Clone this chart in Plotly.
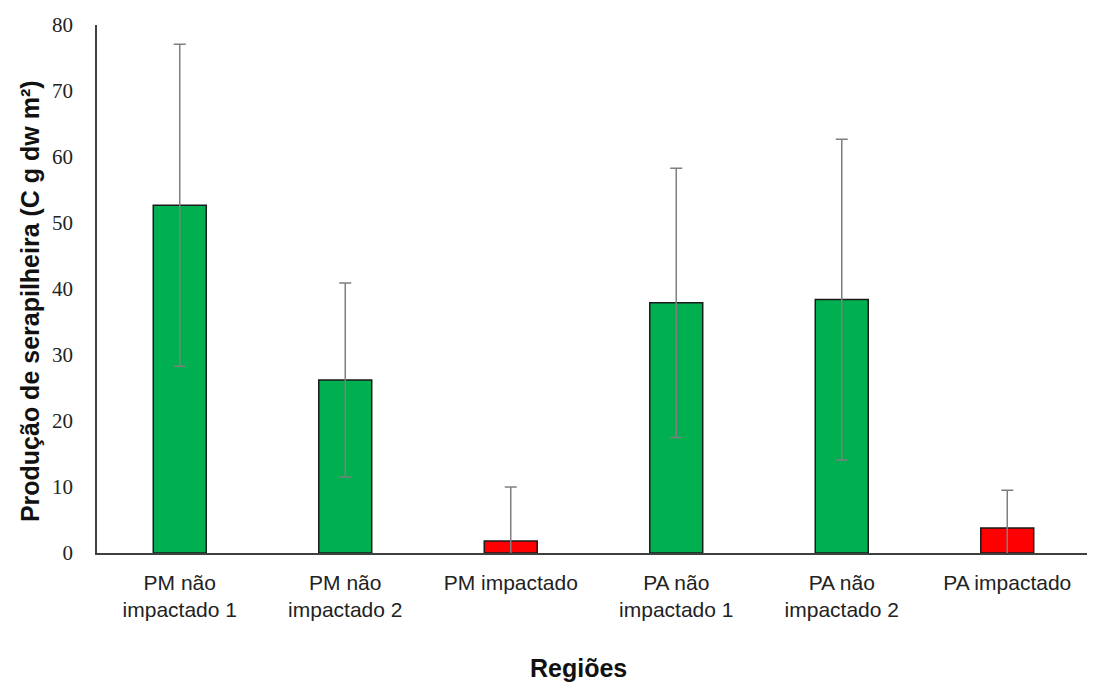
import plotly.graph_objects as go

categories = ["PM não<br>impactado 1", "PM não<br>impactado 2", "PM impactado",
              "PA não<br>impactado 1", "PA não<br>impactado 2", "PA impactado"]
values = [52.7, 26.2, 1.8, 37.9, 38.4, 3.8]
errors = [24.4, 14.7, 8.2, 20.4, 24.3, 5.7]
colors = ["#00B050", "#00B050", "#FF0000", "#00B050", "#00B050", "#FF0000"]
y_ticks = [0, 10, 20, 30, 40, 50, 60, 70, 80]

fig = go.Figure()
fig.add_trace(go.Bar(
    x=categories, y=values,
    marker=dict(color=colors, line=dict(color="#1a1a1a", width=1.5)),
    error_y=dict(type="data", array=errors, visible=True,
                 color="#7f7f7f", thickness=1.5, width=6),
    width=0.32,
))

fig.update_layout(
    width=1087, height=676,
    margin=dict(l=89, r=5, t=17, b=131),
    plot_bgcolor="white", paper_bgcolor="white",
    showlegend=False,
    xaxis=dict(
        showline=True, linecolor="#404040", linewidth=1.5,
        ticks="", showgrid=False,
        tickfont=dict(family="Liberation Sans", size=21, color="#222"),
        ticklabelstandoff=10,
    ),
    yaxis=dict(
        range=[0, 80], tickvals=y_ticks,
        showline=True, linecolor="#404040", linewidth=1.5,
        ticks="", showgrid=False, zeroline=False,
        tickfont=dict(family="Liberation Serif", size=21, color="#222"),
        ticklabelstandoff=18,
    ),
    annotations=[
        dict(text="<b>Produção de serapilheira (C g dw m²)</b>",
             xref="paper", yref="paper", x=-0.0675, y=0.477,
             xanchor="center", yanchor="middle", textangle=-90, showarrow=False,
             font=dict(family="Liberation Sans", size=25, color="#111")),
        dict(text="<b>Regiões</b>",
             xref="paper", yref="paper", x=0.485, y=-0.218,
             xanchor="center", yanchor="middle", showarrow=False,
             font=dict(family="Liberation Sans", size=25, color="#111")),
    ],
)

fig.write_html("out.html")
